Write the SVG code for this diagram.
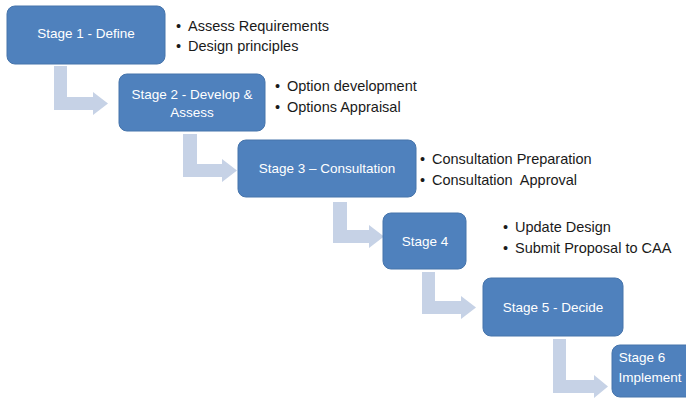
<svg xmlns="http://www.w3.org/2000/svg" width="686" height="401" viewBox="0 0 686 401">
<style>
.box{fill:#4f81bd;stroke:#4674ab;stroke-width:1}
.bt{font-family:"Liberation Sans",Arial,sans-serif;font-size:13.5px;fill:#ffffff;text-anchor:middle}
.bl{font-family:"Liberation Sans",Arial,sans-serif;font-size:14.5px;fill:#1a1a1a;white-space:pre}
.arr{fill:#c6d2e6;stroke:none}
</style>
<rect width="686" height="401" fill="#ffffff"/>
<g id="connectors">
<polygon class="arr" points="54,66 67,66 67,97 93,97 93,92 108,103.5 93,115 93,110 54,110"/>
<polygon class="arr" points="183,134 197,134 197,164 222,164 222,159 237,170.5 222,182 222,177 183,177"/>
<polygon class="arr" points="333,202 347,202 347,230 369,230 369,225 384,236.5 369,248 369,243 333,243"/>
<polygon class="arr" points="422,272 435,272 435,301 461,301 461,296 476,307.5 461,319 461,314 422,314"/>
<polygon class="arr" points="553,339 566,339 566,380 594,380 594,375 608,386.5 594,398 594,393 553,393"/>
</g>
<g id="stage1">
<rect class="box" x="7" y="6" width="158" height="58" rx="8"/>
<text class="bt" x="86" y="38">Stage 1 - Define</text>
</g>
<g id="notes1">
<text class="bl" x="176" y="31">•</text><text class="bl" x="188" y="31">Assess Requirements</text>
<text class="bl" x="176" y="51">•</text><text class="bl" x="188" y="51">Design principles</text>
</g>
<g id="stage2">
<rect class="box" x="119" y="74" width="146" height="57" rx="8"/>
<text class="bt" x="192" y="99">Stage 2 - Develop &amp;</text>
<text class="bt" x="192" y="117">Assess</text>
</g>
<g id="notes2">
<text class="bl" x="275" y="91">•</text><text class="bl" x="287" y="91">Option development</text>
<text class="bl" x="275" y="112">•</text><text class="bl" x="287" y="112">Options Appraisal</text>
</g>
<g id="stage3">
<rect class="box" x="238" y="140" width="178" height="57" rx="8"/>
<text class="bt" x="327" y="173">Stage 3 – Consultation</text>
</g>
<g id="notes3">
<text class="bl" x="420" y="164">•</text><text class="bl" x="432" y="164">Consultation Preparation</text>
<text class="bl" x="420" y="185">•</text><text class="bl" x="432" y="185" xml:space="preserve">Consultation  Approval</text>
</g>
<g id="stage4">
<rect class="box" x="383" y="213" width="83" height="56" rx="8"/>
<text class="bt" x="425" y="246">Stage 4</text>
</g>
<g id="notes4">
<text class="bl" x="503" y="232">•</text><text class="bl" x="515" y="232">Update Design</text>
<text class="bl" x="503" y="253">•</text><text class="bl" x="515" y="253">Submit Proposal to CAA</text>
</g>
<g id="stage5">
<rect class="box" x="483" y="278" width="140" height="58" rx="8"/>
<text class="bt" x="553" y="312">Stage 5 - Decide</text>
</g>
<g id="stage6">
<rect class="box" x="612" y="345" width="110" height="52" rx="8"/>
<text class="bt" x="642" y="362">Stage 6</text>
<text class="bt" x="650" y="382">Implement</text>
</g>
</svg>
